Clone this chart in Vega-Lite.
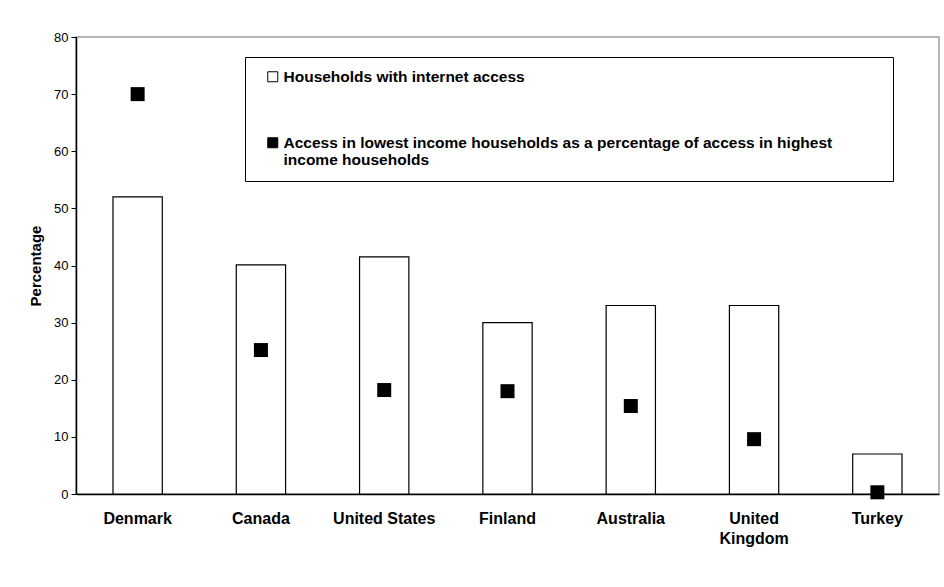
{
  "$schema": "https://vega.github.io/schema/vega-lite/v6.json",
  "autosize": "none",
  "width": 863,
  "height": 457,
  "padding": {"left": 76, "top": 37, "right": 5, "bottom": 93},
  "background": "white",
  "data": {
    "values": [
      {"country": "Denmark", "households": 52.0, "ratio": 70.0},
      {"country": "Canada", "households": 40.1, "ratio": 25.2},
      {"country": "United States", "households": 41.5, "ratio": 18.2},
      {"country": "Finland", "households": 30.0, "ratio": 18.0},
      {"country": "Australia", "households": 33.0, "ratio": 15.4},
      {"country": "United Kingdom", "households": 33.0, "ratio": 9.6},
      {"country": "Turkey", "households": 7.0, "ratio": 0.3}
    ]
  },
  "encoding": {
    "x": {
      "field": "country",
      "type": "nominal",
      "sort": null,
      "scale": {"paddingInner": 0.6, "paddingOuter": 0.3},
      "axis": {
        "title": null,
        "labelAngle": 0,
        "ticks": false,
        "tickSize": 0,
        "labelPadding": 16,
        "labelFont": "Liberation Sans",
        "labelFontSize": 16,
        "labelFontWeight": "bold",
        "labelColor": "black",
        "labelLineHeight": 20,
        "labelExpr": "datum.label == 'United Kingdom' ? ['United', 'Kingdom'] : datum.label",
        "domainColor": "black",
        "domainWidth": 1.5
      }
    }
  },
  "layer": [
    {
      "mark": {"type": "bar", "stroke": "black", "strokeWidth": 1.2},
      "encoding": {
        "y": {
          "field": "households",
          "type": "quantitative",
          "scale": {"domain": [0, 80]},
          "axis": {
            "title": "Percentage",
            "titleFont": "Liberation Sans",
            "titleFontSize": 15,
            "titleFontWeight": "bold",
            "titleColor": "black",
            "titlePadding": 10,
            "grid": false,
            "values": [0, 10, 20, 30, 40, 50, 60, 70, 80],
            "labelOverlap": false,
            "tickSize": 5,
            "tickColor": "black",
            "labelPadding": 3,
            "labelFont": "Liberation Sans",
            "labelFontSize": 13,
            "labelColor": "black",
            "domainColor": "black",
            "domainWidth": 1.5
          }
        },
        "fill": {
          "datum": "Households with internet access",
          "type": "nominal",
          "scale": {
            "domain": ["Households with internet access", "Access in lowest income households as a percentage of access in highest income households"],
            "range": ["white", "black"]
          },
          "legend": {
            "title": null,
            "orient": "none",
            "legendX": 169,
            "legendY": 20,
            "direction": "vertical",
            "strokeColor": "black",
            "fillColor": "white",
            "padding": 12,
            "symbolOffset": 8,
            "rowPadding": 49,
            "symbolType": "square",
            "symbolSize": 100,
            "symbolStrokeColor": "black",
            "symbolStrokeWidth": 1,
            "symbolOpacity": 1,
            "labelFont": "Liberation Sans",
            "labelFontSize": 15.5,
            "labelFontWeight": "bold",
            "labelColor": "black",
            "labelLimit": 1000,
            "labelOffset": 3,
            "labelLineHeight": 17,
            "labelExpr": "datum.label == 'Households with internet access' ? datum.label : ['Access in lowest income households as a percentage of access in highest\u2800\u2800\u2800\u2800', 'income households']"
          }
        }
      }
    },
    {
      "mark": {"type": "point", "shape": "square", "filled": true, "size": 196, "opacity": 1},
      "encoding": {
        "y": {"field": "ratio", "type": "quantitative"},
        "fill": {"datum": "Access in lowest income households as a percentage of access in highest income households", "type": "nominal"}
      }
    }
  ],
  "config": {
    "view": {"stroke": "#a0a0a0", "strokeWidth": 1.5}
  }
}
